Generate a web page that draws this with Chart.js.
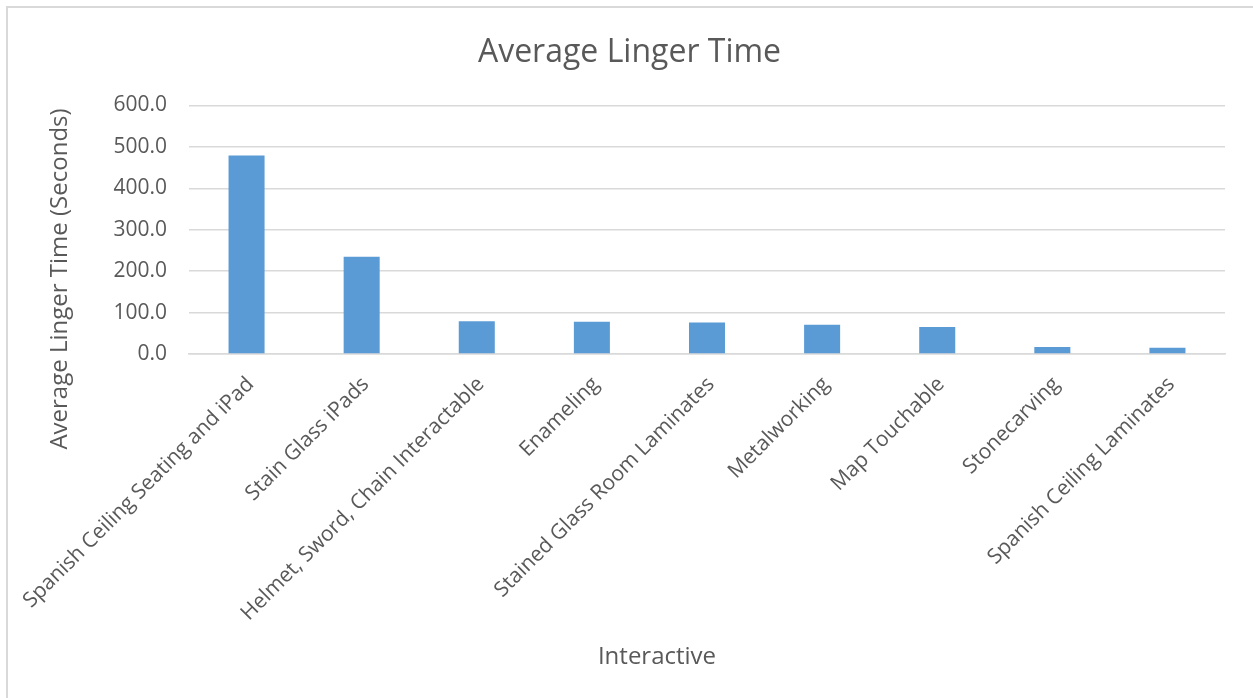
<!DOCTYPE html>
<html>
<head>
<meta charset="utf-8">
<title>Average Linger Time</title>
<script src="https://cdn.jsdelivr.net/npm/chart.js@4/dist/chart.umd.min.js"></script>
<style>
  html, body { margin: 0; padding: 0; background: #ffffff; }
  #wrap { width: 1253px; height: 698px; position: relative; }
</style>
</head>
<body>
<div id="wrap"><canvas id="chart" width="1253" height="698"></canvas></div>
<script>
// Interactive exhibits and their average linger time (seconds)
const categories = [
  "Spanish Ceiling Seating and iPad",
  "Stain Glass iPads",
  "Helmet, Sword, Chain Interactable",
  "Enameling",
  "Stained Glass Room Laminates",
  "Metalworking",
  "Map Touchable",
  "Stonecarving",
  "Spanish Ceiling Laminates"
];
const lingerSeconds = [479, 235, 79, 78, 76, 70.5, 65, 17, 15];
const yTicks = [0, 100, 200, 300, 400, 500, 600];
const xAxisTitle = "Interactive";
const yAxisTitle = "Average Linger Time (Seconds)";

const TEXT = "#595959";
const GRID = "#d9d9d9";
const FONT = "'Open Sans', 'DejaVu Sans', sans-serif";

// Light chart-area frame on the left and top edges
const framePlugin = {
  id: "frame",
  beforeDraw(chart) {
    const ctx = chart.ctx;
    ctx.save();
    ctx.strokeStyle = GRID;
    ctx.lineWidth = 2;
    ctx.beginPath();
    ctx.moveTo(7, chart.height);
    ctx.lineTo(7, 7);
    ctx.lineTo(chart.width, 7);
    ctx.stroke();
    ctx.restore();
  }
};

// Axis titles, centred on the whole chart frame rather than the plot area
const axisTitlePlugin = {
  id: "axisTitles",
  afterDraw(chart) {
    const ctx = chart.ctx;
    ctx.save();
    ctx.fillStyle = TEXT;
    ctx.font = "24px " + FONT;
    ctx.textAlign = "center";
    ctx.textBaseline = "middle";
    ctx.fillText(xAxisTitle, 657, 657);
    ctx.translate(60, 279);
    ctx.rotate(-Math.PI / 2);
    ctx.fillText(yAxisTitle, 0, 0);
    ctx.restore();
  }
};

new Chart(document.getElementById("chart"), {
  type: "bar",
  data: {
    labels: categories,
    datasets: [{
      label: "Average Linger Time",
      data: lingerSeconds,
      backgroundColor: "#5b9bd5",
      borderWidth: 0,
      barPercentage: 0.313,
      categoryPercentage: 1.0
    }]
  },
  plugins: [framePlugin, axisTitlePlugin],
  options: {
    responsive: false,
    animation: false,
    layout: { padding: { left: 34, right: 28, top: 20, bottom: 10 } },
    plugins: {
      legend: { display: false },
      tooltip: { enabled: false },
      title: {
        display: true,
        text: "Average Linger Time",
        color: TEXT,
        font: { family: FONT, size: 32, weight: "normal" },
        padding: { top: 14, bottom: 33 }
      }
    },
    scales: {
      x: {
        grid: { display: false, drawTicks: false },
        border: { display: true, color: GRID, width: 1.5 },
        ticks: {
          color: TEXT,
          font: { family: FONT, size: 21 },
          maxRotation: 45,
          minRotation: 45,
          autoSkip: false,
          padding: 18,
          labelOffset: 4
        },
        afterFit(scale) {
          scale.height = 334;
          // long rotated first label may hang into the left margin
          scale.paddingLeft = 0;
        }
      },
      y: {
        min: 0,
        max: 600,
        afterBuildTicks(scale) { scale.ticks = yTicks.map(v => ({ value: v })); },
        grid: { color: GRID, lineWidth: 1.5, drawTicks: false },
        border: { display: false },
        ticks: {
          color: TEXT,
          font: { family: FONT, size: 21 },
          padding: 22,
          callback: v => v.toFixed(1)
        },
        afterFit(scale) { scale.width = 155; }
      }
    }
  }
});
</script>
</body>
</html>
